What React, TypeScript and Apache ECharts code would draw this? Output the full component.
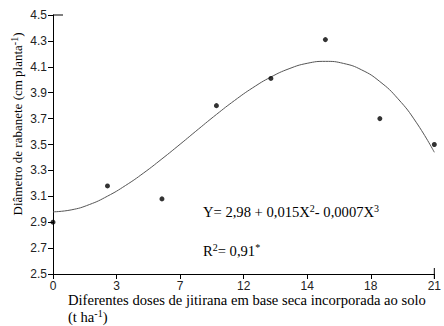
import React, { useEffect, useRef } from "react";
import * as echarts from "echarts";

const xTickLabels = ["0", "3", "7", "12", "14", "18", "21"];
const doses = [0, 3, 6, 9, 12, 15, 18, 21];
const observed = [2.9, 3.18, 3.08, 3.8, 4.01, 4.31, 3.7, 3.5];
const curveX = [0, 1, 2, 3, 4, 5, 6, 7, 8, 9, 10, 11, 12, 13, 14, 15, 16, 17, 18, 19, 20, 21];
const curveY = [2.98, 2.995, 3.036, 3.101, 3.184, 3.281, 3.389, 3.502, 3.618, 3.732, 3.84, 3.938, 4.021, 4.085, 4.127, 4.142, 4.126, 4.076, 3.986, 3.853, 3.672, 3.44];

const serif = "'Liberation Serif', 'DejaVu Serif', serif";
const sans = "'Liberation Sans', Arial, sans-serif";

export default function App() {
  const ref = useRef<HTMLDivElement>(null);
  useEffect(() => {
    document.body.style.margin = "0";
    if (!ref.current) return;
    const chart = echarts.init(ref.current, null, { renderer: "svg" });
    const option: any = {
      animation: false,
      backgroundColor: "#fff",
      grid: { left: 53, right: 2, top: 15, bottom: 52, containLabel: false },
      xAxis: {
        type: "value",
        min: 0,
        max: 21,
        interval: 3.5,
        axisLine: { lineStyle: { color: "#000", width: 1 } },
        axisTick: { length: 5, lineStyle: { color: "#000" } },
        splitLine: { show: false },
        axisLabel: {
          margin: 6,
          color: "#222",
          fontFamily: sans,
          fontSize: 12,
          formatter: (v: number) => xTickLabels[Math.round(v / 3.5)] ?? "",
        },
      },
      yAxis: {
        type: "value",
        min: 2.5,
        max: 4.5,
        interval: 0.2,
        axisLine: { show: true, lineStyle: { color: "#000", width: 1 } },
        axisTick: { show: true, length: 5, lineStyle: { color: "#000" } },
        splitLine: { show: false },
        axisLabel: {
          margin: 6,
          color: "#222",
          fontFamily: sans,
          fontSize: 12,
          formatter: (v: number) => v.toFixed(1),
        },
      },
      series: [
        {
          type: "line",
          data: curveX.map((x, i) => [x, curveY[i]]),
          smooth: true,
          showSymbol: false,
          lineStyle: { color: "#555", width: 1 },
          z: 2,
        },
        {
          type: "scatter",
          data: doses.map((x, i) => [x, observed[i]]),
          symbol: "circle",
          symbolSize: 5,
          itemStyle: { color: "#000" },
          z: 3,
        },
      ],
    };
    chart.setOption(option);

    const tl = chart.convertToPixel({ gridIndex: 0 }, [0, 4.5]) as number[];
    const br = chart.convertToPixel({ gridIndex: 0 }, [21, 2.5]) as number[];

    const supBlue = { fontSize: 10, fontFamily: serif, color: "#3a8fd8", verticalAlign: "top", lineHeight: 10 };
    const supBlack = { fontSize: 10, fontFamily: serif, color: "#000", verticalAlign: "top", lineHeight: 10 };
    const main = { fontSize: 14.6, fontFamily: serif, color: "#000", lineHeight: 17 };
    const mainY = { fontSize: 13, fontFamily: serif, color: "#000", lineHeight: 16 };

    chart.setOption({
      graphic: [
        { type: "line", shape: { x1: tl[0], y1: tl[1], x2: tl[0] + 10, y2: tl[1] }, style: { stroke: "#000", lineWidth: 1 } },
        { type: "line", shape: { x1: br[0], y1: br[1] - 6, x2: br[0], y2: br[1] + 5 }, style: { stroke: "#000", lineWidth: 1 } },
        {
          type: "text",
          x: 17,
          y: 124,
          rotation: Math.PI / 2,
          style: {
            text: "{m|Diâmetro de rabanete (cm planta}{s|-1}{m|)}",
            rich: { m: mainY, s: supBlue },
            align: "center",
            verticalAlign: "middle",
          },
        },
        {
          type: "text",
          x: 68,
          y: 300,
          style: {
            text: "{m|Diferentes doses de jitirana em base seca incorporada ao solo}",
            rich: { m: main },
            align: "left",
            verticalAlign: "middle",
          },
        },
        {
          type: "text",
          x: 68,
          y: 317,
          style: {
            text: "{m|(t ha}{s|-1}{m|)}",
            rich: { m: main, s: supBlue },
            align: "left",
            verticalAlign: "middle",
          },
        },
        {
          type: "text",
          x: 203,
          y: 212,
          style: {
            text: "{m|Y= 2,98 + 0,015X}{s|2}{m|- 0,0007X}{s|3}",
            rich: { m: main, s: supBlack },
            align: "left",
            verticalAlign: "middle",
          },
        },
        {
          type: "text",
          x: 203,
          y: 251,
          style: {
            text: "{m|R}{s|2}{m|= 0,91}{s|*}",
            rich: { m: main, s: supBlack },
            align: "left",
            verticalAlign: "middle",
          },
        },
      ],
    });

    return () => chart.dispose();
  }, []);
  return <div ref={ref} style={{ width: 444, height: 326 }} />;
}
